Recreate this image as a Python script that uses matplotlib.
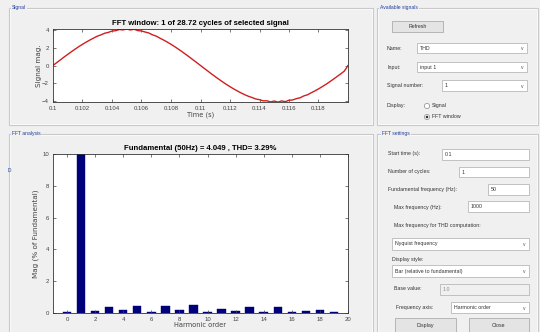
import numpy as np
import matplotlib
matplotlib.use("Agg")
import matplotlib.pyplot as plt
from matplotlib.patches import Rectangle, Circle

# --- data ---
t_start = 0.1
t_step = 0.00025
signal_vals = [0.00, 0.32, 0.63, 0.95, 1.25, 1.55, 1.84, 2.12, 2.38, 2.63,
               2.86, 3.08, 3.29, 3.44, 3.62, 3.72, 3.87, 3.91, 4.04, 4.00,
               4.10, 3.99, 4.08, 3.92, 3.88, 3.76, 3.65, 3.44, 3.30, 3.07,
               2.86, 2.63, 2.38, 2.12, 1.84, 1.55, 1.25, 0.95, 0.63, 0.32,
               0.00, -0.32, -0.63, -0.95, -1.25, -1.55, -1.84, -2.12, -2.38, -2.63,
               -2.86, -3.08, -3.28, -3.46, -3.60, -3.76, -3.84, -3.97, -3.96, -4.09,
               -3.99, -4.11, -3.98, -4.06, -3.90, -3.87, -3.72, -3.63, -3.42, -3.29,
               -3.07, -2.86, -2.63, -2.38, -2.12, -1.84, -1.55, -1.25, -0.95, -0.63,
               0.00]
time_ticks = [0.1, 0.102, 0.104, 0.106, 0.108, 0.11, 0.112, 0.114, 0.116, 0.118]
time_tick_labels = ["0.1", "0.102", "0.104", "0.106", "0.108", "0.11",
                    "0.112", "0.114", "0.116", "0.118"]

harmonic_order = list(range(0, 20))
harmonic_mag = [0.06, 100.0, 0.10, 0.38, 0.19, 0.42, 0.05, 0.42, 0.16, 0.48,
                0.05, 0.26, 0.14, 0.40, 0.05, 0.38, 0.08, 0.15, 0.17, 0.08]

fft_title = "FFT window: 1 of 28.72 cycles of selected signal"
thd_title = "Fundamental (50Hz) = 4.049 , THD= 3.29%"

W, H = 540, 332
fig = plt.figure(figsize=(W / 100, H / 100), dpi=100)
fig.patch.set_facecolor("#f0f0f0")

# background layer in pixel coordinates for the GUI frames / widgets
bg = fig.add_axes([0, 0, 1, 1], zorder=-1)
bg.set_xlim(0, W)
bg.set_ylim(H, 0)
bg.axis("off")

gui_font = ["Liberation Sans", "DejaVu Sans"]
frame_col = "#c9c9c9"
blue_txt = "#1f3c9c"


def frame(x0, y0, x1, y1, title, tx):
    bg.add_patch(Rectangle((x0, y0), x1 - x0, y1 - y0, fill=False,
                           edgecolor=frame_col, lw=0.8))
    bg.add_patch(Rectangle((x0 + 1, y0 + 1), x1 - x0 - 2, y1 - y0 - 2, fill=False,
                           edgecolor="white", lw=0.5))
    bg.text(tx, y0, title, fontsize=3.6, color=blue_txt, va="center", ha="left",
            family=gui_font, bbox=dict(facecolor="#f0f0f0", edgecolor="none", pad=0.6))


frame(9, 8, 373, 125, "Signal", 12)
frame(9, 134, 373, 345, "FFT analysis", 12)
frame(377, 8, 538, 125, "Available signals", 380)
frame(377, 134, 538, 345, "FFT settings", 382)


def label(x, y, s, col="#333333"):
    bg.text(x, y, s, fontsize=3.8, color=col, va="center", ha="left", family=gui_font)


def box(x0, y0, x1, y1, s=None, arrow=False, disabled=False):
    bg.add_patch(Rectangle((x0, y0), x1 - x0, y1 - y0,
                           facecolor="#f0f0f0" if disabled else "white",
                           edgecolor="#b8b8b8", lw=0.6))
    if s is not None:
        label(x0 + 3, (y0 + y1) / 2, s, "#8a8a8a" if disabled else "#333333")
    if arrow:
        bg.text(x1 - 5, (y0 + y1) / 2 + 0.5, "v", fontsize=3.6, color="#555555",
                va="center", ha="center", family=gui_font)


def button(x0, y0, x1, y1, s):
    bg.add_patch(Rectangle((x0, y0), x1 - x0, y1 - y0, facecolor="#e4e4e4",
                           edgecolor="#adadad", lw=0.6))
    bg.text((x0 + x1) / 2, (y0 + y1) / 2, s, fontsize=3.8, color="#333333",
            va="center", ha="center", family=gui_font)


# available signals panel
button(392, 21, 443, 32, "Refresh")
label(387, 48, "Name:")
box(417, 43, 527, 53, "THD", arrow=True)
label(387, 67, "Input:")
box(417, 62, 527, 72, "input 1", arrow=True)
label(387, 85, "Signal number:")
box(442, 80, 527, 91, "1", arrow=True)
label(387, 106, "Display:")
bg.add_patch(Circle((427, 106), 2.6, facecolor="white", edgecolor="#888888", lw=0.5))
label(432, 106, "Signal")
bg.add_patch(Circle((427, 117), 2.6, facecolor="white", edgecolor="#888888", lw=0.5))
bg.add_patch(Circle((427, 117), 1.3, facecolor="#333333", edgecolor="none"))
label(432, 117, "FFT window")

# FFT settings panel
label(388, 154, "Start time (s):")
box(442, 149, 529, 160, "0.1")
label(388, 172, "Number of cycles:")
box(459, 167, 529, 177, "1")
label(388, 189, "Fundamental frequency (Hz):")
box(488, 184, 529, 195, "50")
label(394, 207, "Max frequency (Hz):")
box(468, 201, 529, 212, "1000")
label(394, 225, "Max frequency for THD computation:")
box(392, 238, 529, 250, "Nyquist frequency", arrow=True)
label(392, 259, "Display style:")
box(392, 265, 529, 277, "Bar (relative to fundamental)", arrow=True)
label(394, 289, "Base value:")
box(440, 284, 529, 295, "1.0", disabled=True)
label(396, 308, "Frequency axis:")
box(451, 302, 529, 313, "Harmonic order", arrow=True)
button(395, 318, 456, 333, "Display")
button(469, 318, 529, 333, "Close")

bg.text(8, 170, "D", fontsize=3.5, color=blue_txt, family=gui_font, va="center")


def matlab_style(ax):
    for s in ax.spines.values():
        s.set_color("#333333")
        s.set_linewidth(0.6)
    ax.tick_params(direction="in", top=True, right=True, length=2.5, width=0.5,
                   labelsize=4.3, colors="#444444", pad=3)
    for lab in ax.get_xticklabels() + ax.get_yticklabels():
        lab.set_family(["Liberation Sans Narrow", "Liberation Sans", "DejaVu Sans"])


# signal axes
ax1 = fig.add_axes([53 / W, 1 - 102 / H, 295 / W, 73 / H])
t = t_start + t_step * np.arange(len(signal_vals))
ax1.plot(t, signal_vals, color="#d01e1e", lw=1.0)
ax1.set_xlim(0.1, 0.12)
ax1.set_ylim(-4.1, 4.1)
ax1.set_xticks(time_ticks)
ax1.set_xticklabels(time_tick_labels)
ax1.set_yticks([-4, -2, 0, 2, 4])
matlab_style(ax1)
ax1.set_title(fft_title, fontsize=5.6, fontweight="bold", pad=3,
              family=["Liberation Sans Narrow", "Liberation Sans", "DejaVu Sans"])
ax1.set_xlabel("Time (s)", fontsize=4.8, labelpad=0, color="#444444")
ax1.set_ylabel("Signal mag.", fontsize=5.2, labelpad=0, color="#444444")

# FFT bar axes
ax2 = fig.add_axes([53 / W, 1 - 313 / H, 295 / W, 159 / H])
ax2.bar(harmonic_order, harmonic_mag, width=0.6, color="#00007a", edgecolor="#00007a",
        lw=0.3)
ax2.set_xlim(-1, 20)
ax2.set_ylim(0, 10)
ax2.set_xticks(range(0, 21, 2))
ax2.set_yticks(range(0, 11, 2))
matlab_style(ax2)
ax2.set_title(thd_title, fontsize=5.6, fontweight="bold", pad=3,
              family=["Liberation Sans Narrow", "Liberation Sans", "DejaVu Sans"])
ax2.set_xlabel("Harmonic order", fontsize=4.8, labelpad=0, color="#444444")
ax2.set_ylabel("Mag (% of Fundamental)", fontsize=5.2, labelpad=2, color="#444444")

fig.savefig("out.png", dpi=100, facecolor=fig.get_facecolor())
